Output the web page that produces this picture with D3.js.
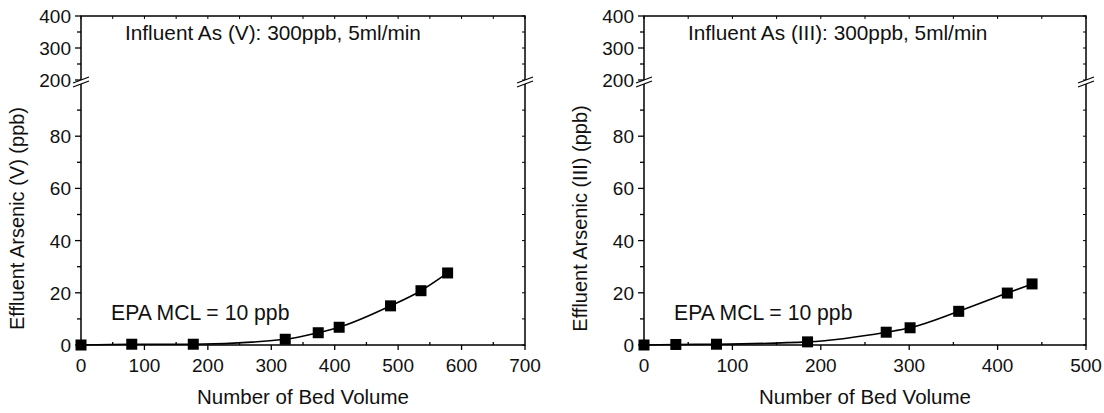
<!DOCTYPE html>
<html>
<head>
<meta charset="utf-8">
<script src="https://cdn.jsdelivr.net/npm/d3@7"></script>
<style>
  body { margin: 0; background: #fff; }
  text { font-family: Arial, "Liberation Sans", sans-serif; fill: #111; }
</style>
</head>
<body>
<svg id="chart" width="1104" height="413"></svg>
<script>
// Arsenic (V) column
const bvV = [0, 80, 177, 322, 374, 407, 488, 536, 578];
const asV = [0, 0.3, 0.3, 2.2, 4.7, 6.8, 15.0, 20.8, 27.6];
// Arsenic (III) column
const bvIII = [0, 36, 82, 185, 274, 301, 356, 411, 439];
const asIII = [0, 0.2, 0.3, 1.2, 4.9, 6.6, 12.9, 19.9, 23.4];

const lowTicks = [0, 20, 40, 60, 80];
const highTicks = [200, 300, 400];

const svg = d3.select("#chart");

function drawPanel(opt) {
    const x = d3.scaleLinear().domain([0, opt.xMax]).range([opt.left, opt.right]);
    const yLow = d3.scaleLinear().domain([0, 100]).range([opt.bottom, 84]);
    const yHigh = d3.scaleLinear().domain([200, 400]).range([80, opt.top]);
    const g = svg.append("g");

    // frame
    g.append("rect")
        .attr("x", opt.left).attr("y", opt.top)
        .attr("width", opt.right - opt.left).attr("height", opt.bottom - opt.top)
        .attr("fill", "none").attr("stroke", "#000").attr("stroke-width", 1.5);

    // bottom axis: major out, minor in
    const xMajor = d3.range(0, opt.xMax + 1, 100);
    const xMinor = d3.range(50, opt.xMax, 100);
    g.selectAll(".xmaj").data(xMajor).enter().append("line")
        .attr("x1", d => x(d)).attr("x2", d => x(d))
        .attr("y1", opt.bottom).attr("y2", opt.bottom + 5)
        .attr("stroke", "#000").attr("stroke-width", 1.3);
    g.selectAll(".xmin").data(xMinor).enter().append("line")
        .attr("x1", d => x(d)).attr("x2", d => x(d))
        .attr("y1", opt.bottom).attr("y2", opt.bottom - 3)
        .attr("stroke", "#000").attr("stroke-width", 1.3);
    g.selectAll(".xlab").data(xMajor).enter().append("text")
        .attr("x", d => x(d)).attr("y", opt.bottom + 27)
        .attr("text-anchor", "middle").attr("font-size", 19)
        .text(d => d);
    // top axis ticks (inward)
    g.selectAll(".xtop").data(xMajor.concat(xMinor)).enter().append("line")
        .attr("x1", d => x(d)).attr("x2", d => x(d))
        .attr("y1", opt.top).attr("y2", opt.top + 3)
        .attr("stroke", "#000").attr("stroke-width", 1);

    // left axis, both segments
    const lowMinor = [10, 30, 50, 70, 90];
    const highMinor = [250, 350];
    const yTicks = lowTicks.map(d => ({ y: yLow(d), v: d, major: true }))
        .concat(lowMinor.map(d => ({ y: yLow(d), major: false })))
        .concat(highTicks.map(d => ({ y: yHigh(d), v: d, major: true })))
        .concat(highMinor.map(d => ({ y: yHigh(d), major: false })));
    g.selectAll(".yt").data(yTicks).enter().append("line")
        .attr("x1", opt.left).attr("x2", d => opt.left - (d.major ? 6 : 4))
        .attr("y1", d => d.y).attr("y2", d => d.y)
        .attr("stroke", "#000").attr("stroke-width", 1.3);
    g.selectAll(".ytr").data(yTicks).enter().append("line")
        .attr("x1", opt.right).attr("x2", d => opt.right - 3)
        .attr("y1", d => d.y).attr("y2", d => d.y)
        .attr("stroke", "#000").attr("stroke-width", 1);
    g.selectAll(".ylab").data(yTicks.filter(d => d.major)).enter().append("text")
        .attr("x", opt.left - 10).attr("y", d => d.y + 7)
        .attr("text-anchor", "end").attr("font-size", 19)
        .text(d => d.v);

    // axis break marks
    [opt.left, opt.right].forEach(bx => {
        const by = 82;
        g.append("polygon")
            .attr("points", `${bx - 8},${by + 1} ${bx + 8},${by - 5} ${bx + 8},${by - 1} ${bx - 8},${by + 5}`)
            .attr("fill", "#fff");
        [-2, 2].forEach(o => {
            g.append("line")
                .attr("x1", bx - 8).attr("y1", by + 3 + o)
                .attr("x2", bx + 8).attr("y2", by - 3 + o)
                .attr("stroke", "#000").attr("stroke-width", 1.2);
        });
    });

    // data curve
    const pts = opt.xs.map((v, i) => [v, opt.ys[i]]);
    g.append("path")
        .datum(pts)
        .attr("fill", "none").attr("stroke", "#000").attr("stroke-width", 1.6)
        .attr("d", d3.line().x(d => x(d[0])).y(d => yLow(d[1])).curve(d3.curveMonotoneX));

    g.selectAll(".pt").data(pts).enter().append("rect")
        .attr("x", d => x(d[0]) - 5.5).attr("y", d => yLow(d[1]) - 5.5)
        .attr("width", 11).attr("height", 11)
        .attr("fill", "#000");

    // labels
    g.append("text")
        .attr("x", opt.left + 44).attr("y", 40)
        .attr("font-size", 20.8).text(opt.title);
    g.append("text")
        .attr("x", opt.left + 30).attr("y", 320)
        .attr("font-size", 21.2).text("EPA MCL = 10 ppb");
    g.append("text")
        .attr("x", (opt.left + opt.right) / 2).attr("y", 404)
        .attr("text-anchor", "middle").attr("font-size", 20.5)
        .text("Number of Bed Volume");
    g.append("text")
        .attr("transform", `translate(${opt.left - 57},${(opt.top + opt.bottom) / 2 + 38}) rotate(-90)`)
        .attr("text-anchor", "middle").attr("font-size", 20)
        .text(opt.yLabel);
}

drawPanel({
    left: 81, right: 525, top: 16, bottom: 345, xMax: 700,
    xs: bvV, ys: asV,
    title: "Influent As (V): 300ppb, 5ml/min",
    yLabel: "Effluent Arsenic (V) (ppb)"
});
drawPanel({
    left: 644, right: 1086, top: 16, bottom: 345, xMax: 500,
    xs: bvIII, ys: asIII,
    title: "Influent As (III): 300ppb, 5ml/min",
    yLabel: "Effluent Arsenic (III) (ppb)"
});
</script>
</body>
</html>
